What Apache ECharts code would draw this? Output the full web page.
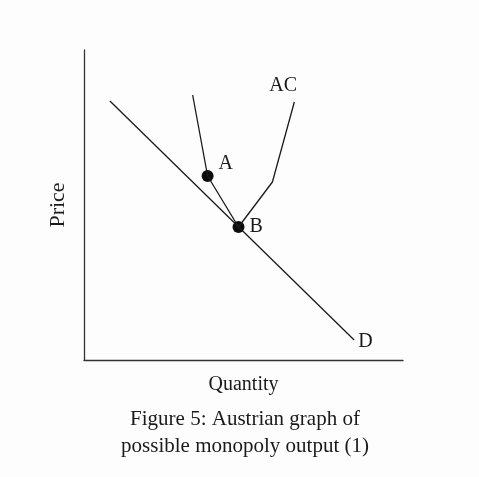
<!DOCTYPE html>
<html>
<head>
<meta charset="utf-8">
<script src="https://cdn.jsdelivr.net/npm/echarts@6/dist/echarts.min.js"></script>
<style>
  html, body { margin: 0; padding: 0; background: #fdfdfd; }
  #chart { width: 479px; height: 477px; }
</style>
</head>
<body>
<div id="chart"></div>
<script>
// demand curve D (quantity, price)
const demandPoints = [[26, 259], [271, 20]]
// average cost curve AC
const acPoints = [[109, 265], [124, 184], [155, 133], [189, 178], [211, 258]]
// marked points
const pointA = [124, 184]
const pointB = [155, 133]

const font = '"Liberation Serif", "DejaVu Serif", serif'
const ink = '#1a1a1a'

const chart = echarts.init(document.getElementById('chart'))

chart.setOption({
  backgroundColor: '#fdfdfd',
  animation: false,
  title: {
    text: 'Figure 5: Austrian graph of\npossible monopoly output (1)',
    left: 240,
    textAlign: 'center',
    top: 401,
    textStyle: { fontFamily: font, fontSize: 21, fontWeight: 'normal', color: ink, lineHeight: 27 }
  },
  grid: { left: 84, right: 76, top: 50, bottom: 117 },
  xAxis: {
    type: 'value',
    min: 0,
    max: 320,
    name: 'Quantity',
    nameLocation: 'middle',
    nameGap: 15,
    nameTextStyle: { fontFamily: font, fontSize: 20, color: ink },
    axisLine: { lineStyle: { color: '#333', width: 1.3 } },
    axisTick: { show: false },
    axisLabel: { show: false },
    splitLine: { show: false }
  },
  yAxis: {
    type: 'value',
    min: 0,
    max: 310,
    name: 'Price',
    nameLocation: 'middle',
    nameGap: 15,
    nameTextStyle: { fontFamily: font, fontSize: 22, color: ink },
    axisLine: { lineStyle: { color: '#333', width: 1.3 } },
    axisTick: { show: false },
    axisLabel: { show: false },
    splitLine: { show: false }
  },
  series: [
    {
      name: 'D',
      type: 'line',
      data: demandPoints,
      symbol: 'none',
      lineStyle: { color: ink, width: 1.3 },
      endLabel: { show: true, formatter: 'D', fontFamily: font, fontSize: 20, color: ink, distance: 4, offset: [0, 2] }
    },
    {
      name: 'AC',
      type: 'line',
      data: acPoints,
      symbol: 'none',
      lineStyle: { color: ink, width: 1.3 },
      endLabel: { show: true, formatter: 'AC', fontFamily: font, fontSize: 20, color: ink, distance: 0, offset: [-25, -16] }
    },
    {
      name: 'points',
      type: 'scatter',
      symbolSize: 12,
      itemStyle: { color: '#0d0d0d', opacity: 1 },
      data: [
        { value: pointA, label: { show: true, formatter: 'A', position: 'right', offset: [0, -12] } },
        { value: pointB, label: { show: true, formatter: 'B', position: 'right', offset: [0, 0] } }
      ],
      label: { fontFamily: font, fontSize: 20, color: ink }
    }
  ]
})
</script>
</body>
</html>
